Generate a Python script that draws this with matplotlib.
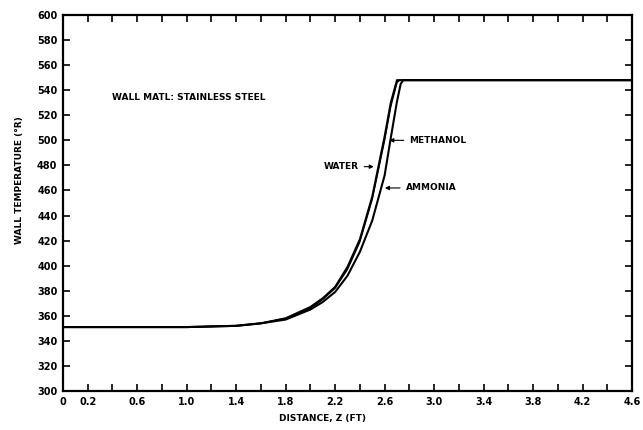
import numpy as np
import matplotlib
matplotlib.use('Agg')
import matplotlib.pyplot as plt

# curves (distance in ft, wall temperature in deg R)
water_z = [0, 1.0, 1.4, 1.6, 1.8, 2.0, 2.1, 2.2, 2.3, 2.4, 2.5, 2.6, 2.65, 2.7, 4.6]
water_t = [351, 351, 352, 354, 358, 367, 374, 383, 399, 421, 455, 503, 530, 548, 548]

methanol_z = [0, 1.0, 1.4, 1.6, 1.8, 2.0, 2.1, 2.2, 2.3, 2.4, 2.5, 2.6, 2.65, 2.7, 2.72, 4.6]
methanol_t = [351, 351, 352, 354, 358, 366, 373, 382, 397, 419, 453, 500, 527, 546, 548, 548]

ammonia_z = [0, 1.0, 1.4, 1.6, 1.8, 2.0, 2.1, 2.2, 2.3, 2.4, 2.5, 2.6, 2.65, 2.7, 2.73, 2.75, 4.6]
ammonia_t = [351, 351, 352, 354, 357, 365, 371, 379, 392, 411, 436, 472, 502, 531, 545, 548, 548]

xtick_pos = [0, 0.2, 0.4, 0.6, 0.8, 1.0, 1.2, 1.4, 1.6, 1.8, 2.0, 2.2, 2.4,
             2.6, 2.8, 3.0, 3.2, 3.4, 3.6, 3.8, 4.0, 4.2, 4.4, 4.6]
xtick_lab = ['0', '0.2', '', '0.6', '', '1.0', '', '1.4', '', '1.8', '', '2.2', '',
             '2.6', '', '3.0', '', '3.4', '', '3.8', '', '4.2', '', '4.6']
ytick_pos = [300, 320, 340, 360, 380, 400, 420, 440, 460, 480, 500,
             520, 540, 560, 580, 600]

plt.rcParams['font.family'] = ['DejaVu Sans']
plt.rcParams['font.weight'] = 'bold'

fig = plt.figure(figsize=(6.43, 4.3), dpi=100)
ax = fig.add_axes([63/643, 1-391/430, (632-63)/643, (391-15)/430])

ax.plot(water_z, water_t, color='black', lw=1.5)
ax.plot(methanol_z, methanol_t, color='black', lw=1.0)
ax.plot(ammonia_z, ammonia_t, color='black', lw=1.5)

ax.set_xlim(0, 4.6)
ax.set_ylim(300, 600)
ax.set_xticks(xtick_pos)
ax.set_xticklabels(xtick_lab)
ax.set_yticks(ytick_pos)
ax.tick_params(direction='in', top=True, right=True, length=5, width=1.2,
               labelsize=7, pad=4)
for s in ax.spines.values():
    s.set_linewidth(1.6)

ax.text(0.40, 532, 'WALL MATL: STAINLESS STEEL', fontsize=6.5, fontweight='bold')

arr = dict(arrowstyle='-|>', color='black', lw=0.8, mutation_scale=6)
ax.annotate('METHANOL', xy=(2.615, 500), xytext=(2.8, 500), fontsize=6.5,
            va='center', ha='left', arrowprops=arr)
ax.annotate('WATER', xy=(2.535, 479), xytext=(2.39, 479), fontsize=6.5,
            va='center', ha='right', arrowprops=arr)
ax.annotate('AMMONIA', xy=(2.58, 462), xytext=(2.77, 462), fontsize=6.5,
            va='center', ha='left', arrowprops=arr)

fig.text(322/643, 1-418/430, 'DISTANCE, Z (FT)', fontsize=6.5, ha='center', va='center')
fig.text(20/643, 1-180/430, 'WALL TEMPERATURE (\u00b0R)', fontsize=6.5, ha='center',
         va='center', rotation=90)

fig.savefig('out.png', dpi=100)
